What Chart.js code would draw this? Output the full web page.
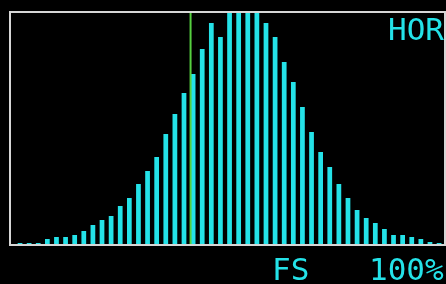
<!DOCTYPE html>
<html>
<head>
<meta charset="utf-8">
<script src="https://cdn.jsdelivr.net/npm/chart.js@4.4.1/dist/chart.umd.min.js"></script>
<style>
    html, body { margin: 0; padding: 0; background: #000; }
    #wrap { width: 446px; height: 284px; position: relative; }
</style>
</head>
<body>
<div id="wrap"><canvas id="histogram"></canvas></div>
<script>
// Histogram bins (bin index -> count)
var binCounts = [2, 2, 2, 6, 8, 8, 10, 14, 20, 25, 29, 39, 47, 61, 74, 88, 111, 131, 152, 171,
    196, 222, 208, 245, 250, 250, 245, 222, 208, 183, 163, 138, 113, 93, 78, 61, 47, 35, 27, 22,
    16, 10, 10, 8, 6, 3, 2];
var binIndex = binCounts.map((c, i) => i);

// Visible range of the histogram box
var xMin = -1.1;
var xMax = 46.65;
var yMax = 233;

// Green marker position (in bins)
var markerBin = 18.72;

// Overlay labels
var cornerLabel = "HOR";
var footLabels = ["FS", "100%"];

var cyan = "rgb(36, 226, 232)";

// Draws the white box, the green marker and the labels
var overlayPlugin = {
    id: 'overlay',
    afterDatasetsDraw: function(chart) {
        var ctx = chart.ctx;
        var area = chart.chartArea;
        var x = chart.scales.x;

        ctx.save();
        // Marker line
        var mx = x.getPixelForValue(markerBin);
        ctx.strokeStyle = "rgb(86, 208, 64)";
        ctx.lineWidth = 2;
        ctx.beginPath();
        ctx.moveTo(mx, area.top);
        ctx.lineTo(mx, area.bottom);
        ctx.stroke();

        // Box
        ctx.strokeStyle = "#d6d6d6";
        ctx.lineWidth = 2;
        ctx.strokeRect(area.left, area.top, area.right - area.left, area.bottom - area.top);

        // Labels
        ctx.fillStyle = cyan;
        ctx.font = "31px 'DejaVu Sans Mono'";
        ctx.textBaseline = "alphabetic";
        ctx.textAlign = "left";
        ctx.fillText(cornerLabel, 388, 40);
        ctx.fillText(footLabels[0], 272, 280);
        ctx.fillText(footLabels[1], 369, 280);
        ctx.restore();
    }
};

var ctx = document.getElementById('histogram').getContext('2d');
var chart = new Chart(ctx, {
    type: 'bar',
    data: {
        datasets: [{
            data: binIndex.map(i => ({ x: i, y: binCounts[i] })),
            backgroundColor: cyan,
            borderWidth: 0,
            barPercentage: 0.52,
            categoryPercentage: 1
        }]
    },
    options: {
        responsive: true,
        maintainAspectRatio: false,
        animation: false,
        events: [],
        layout: {
            padding: { left: 10, top: 12, right: 1, bottom: 39 }
        },
        plugins: {
            legend: { display: false },
            tooltip: { enabled: false }
        },
        scales: {
            x: {
                type: 'linear',
                display: false,
                offset: false,
                min: xMin,
                max: xMax
            },
            y: {
                display: false,
                min: 0,
                max: yMax
            }
        }
    },
    plugins: [overlayPlugin]
});
</script>
</body>
</html>
